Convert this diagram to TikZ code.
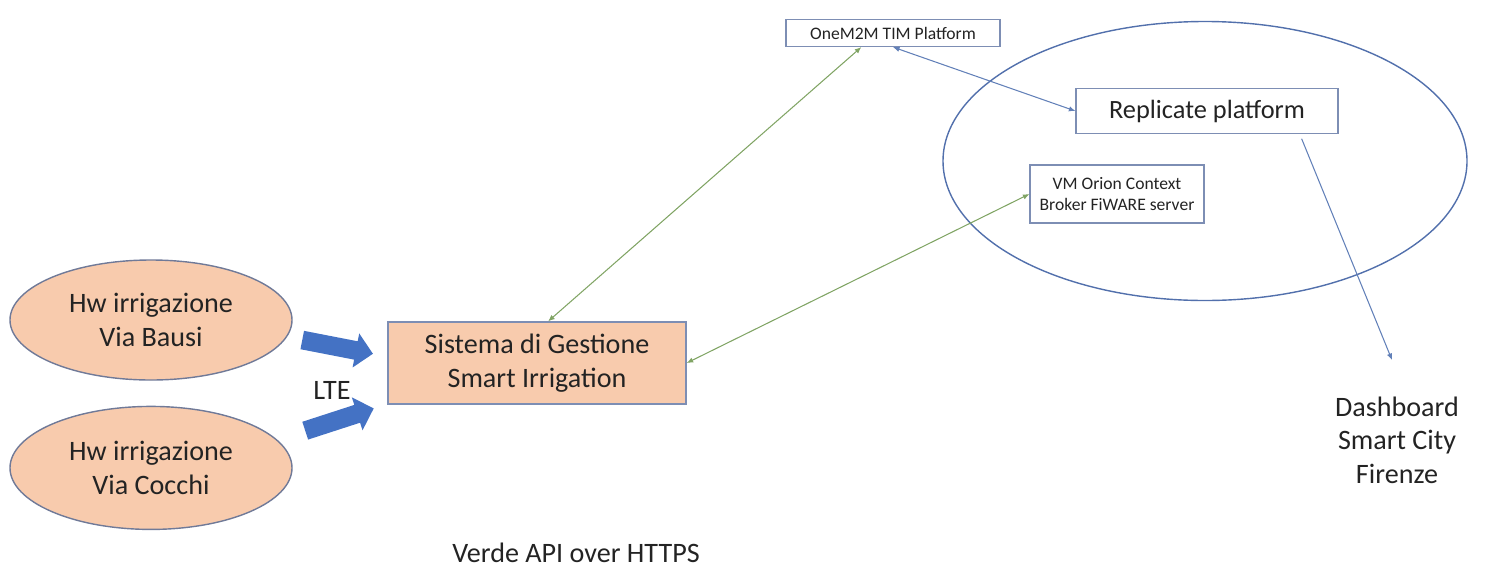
\documentclass[tikz,border=0pt]{standalone}
\usepackage{fontspec}
\setmainfont{Carlito}
\usetikzlibrary{shapes,arrows.meta,positioning}

\definecolor{peach}{HTML}{F8CBAD}
\definecolor{hwedge}{RGB}{112,122,152}
\definecolor{boxedge}{RGB}{125,142,180}
\definecolor{cloudedge}{RGB}{82,112,172}
\definecolor{bigarrow}{HTML}{4472C4}
\definecolor{linkgreen}{RGB}{128,164,100}
\definecolor{linkblue}{RGB}{98,128,184}
\definecolor{txt}{RGB}{35,35,35}

\tikzset{
  hw/.style={ellipse, draw=hwedge, fill=peach, line width=0.8pt, align=center,
    text=txt, minimum width=56.4mm, minimum height=24mm,
    font=\fontsize{16}{19}\selectfont},
  mainbox/.style={rectangle, draw=boxedge, fill=peach, line width=0.8pt, align=center,
    text=txt, minimum width=59.6mm, minimum height=16.4mm,
    font=\fontsize{16}{19}\selectfont},
  smallbox/.style={rectangle, draw=boxedge, line width=0.7pt, align=center,
    text=txt, font=\fontsize{10}{12.5}\selectfont},
  lte/.style={single arrow, fill=bigarrow, draw=none, inner xsep=0pt, inner ysep=1.8mm,
    minimum height=14.4mm, single arrow head extend=1.6mm},
  plain/.style={align=center, text=txt, font=\fontsize{16}{19}\selectfont},
  glink/.style={draw=linkgreen, line width=0.6pt,
    {Latex[length=1.3mm,width=1.1mm]}-{Latex[length=1.3mm,width=1.1mm]}},
  blink/.style={draw=linkblue, line width=0.6pt,
    {Latex[length=1.3mm,width=1.1mm]}-{Latex[length=1.3mm,width=1.1mm]}}
}

\begin{document}
\begin{tikzpicture}[x=0.2mm, y=-0.2mm]
  \useasboundingbox (0,0) rectangle (1497,572);

  % field hardware
  \node[hw] (bausi) at (151,320) {Hw irrigazione\\Via Bausi};
  \node[hw, below=5mm of bausi, minimum height=24.6mm] (cocchi) {Hw irrigazione\\Via Cocchi};

  \node[lte, rotate=-11] (lteup) at (333,346) {};
  \node[lte, rotate=18] (ltedown) at (335,421) {};
  \node[plain] (ltelabel) at (332,390) {LTE};

  \node[mainbox] (sistema) at (537,363) {Sistema di Gestione\\Smart Irrigation};
  \node[plain] (verde) at (576,553) {Verde API over HTTPS};

  % platforms
  \node[ellipse, draw=cloudedge, line width=0.8pt, minimum width=104.8mm,
    minimum height=55.8mm] (cloud) at (1205,161) {};
  \node[smallbox, minimum width=42.8mm, minimum height=5.4mm] (onem2m) at (893,33) {OneM2M TIM Platform};
  \node[smallbox, minimum width=52.4mm, minimum height=9mm,
    font=\fontsize{15}{18}\selectfont] (replicate) at (1207,111) {Replicate platform};
  \node[smallbox, minimum width=34.8mm, minimum height=11.6mm] (orion) at (1117,194)
    {VM Orion Context\\Broker FiWARE server};

  \node[plain] (dashboard) at (1397,440) {Dashboard\\Smart City\\Firenze};
  \coordinate (dashin) at (1392,360);

  % links
  \draw[glink] (sistema.75) -- (onem2m.204);
  \draw[glink] (sistema.east) -- (orion.west);
  \draw[blink] (onem2m.south) -- (replicate.west);
  \draw[draw=linkblue, line width=0.6pt, -{Latex[length=1.3mm,width=1.1mm]},
    shorten <=1mm] (replicate.-14) -- (dashin);
\end{tikzpicture}
\end{document}
